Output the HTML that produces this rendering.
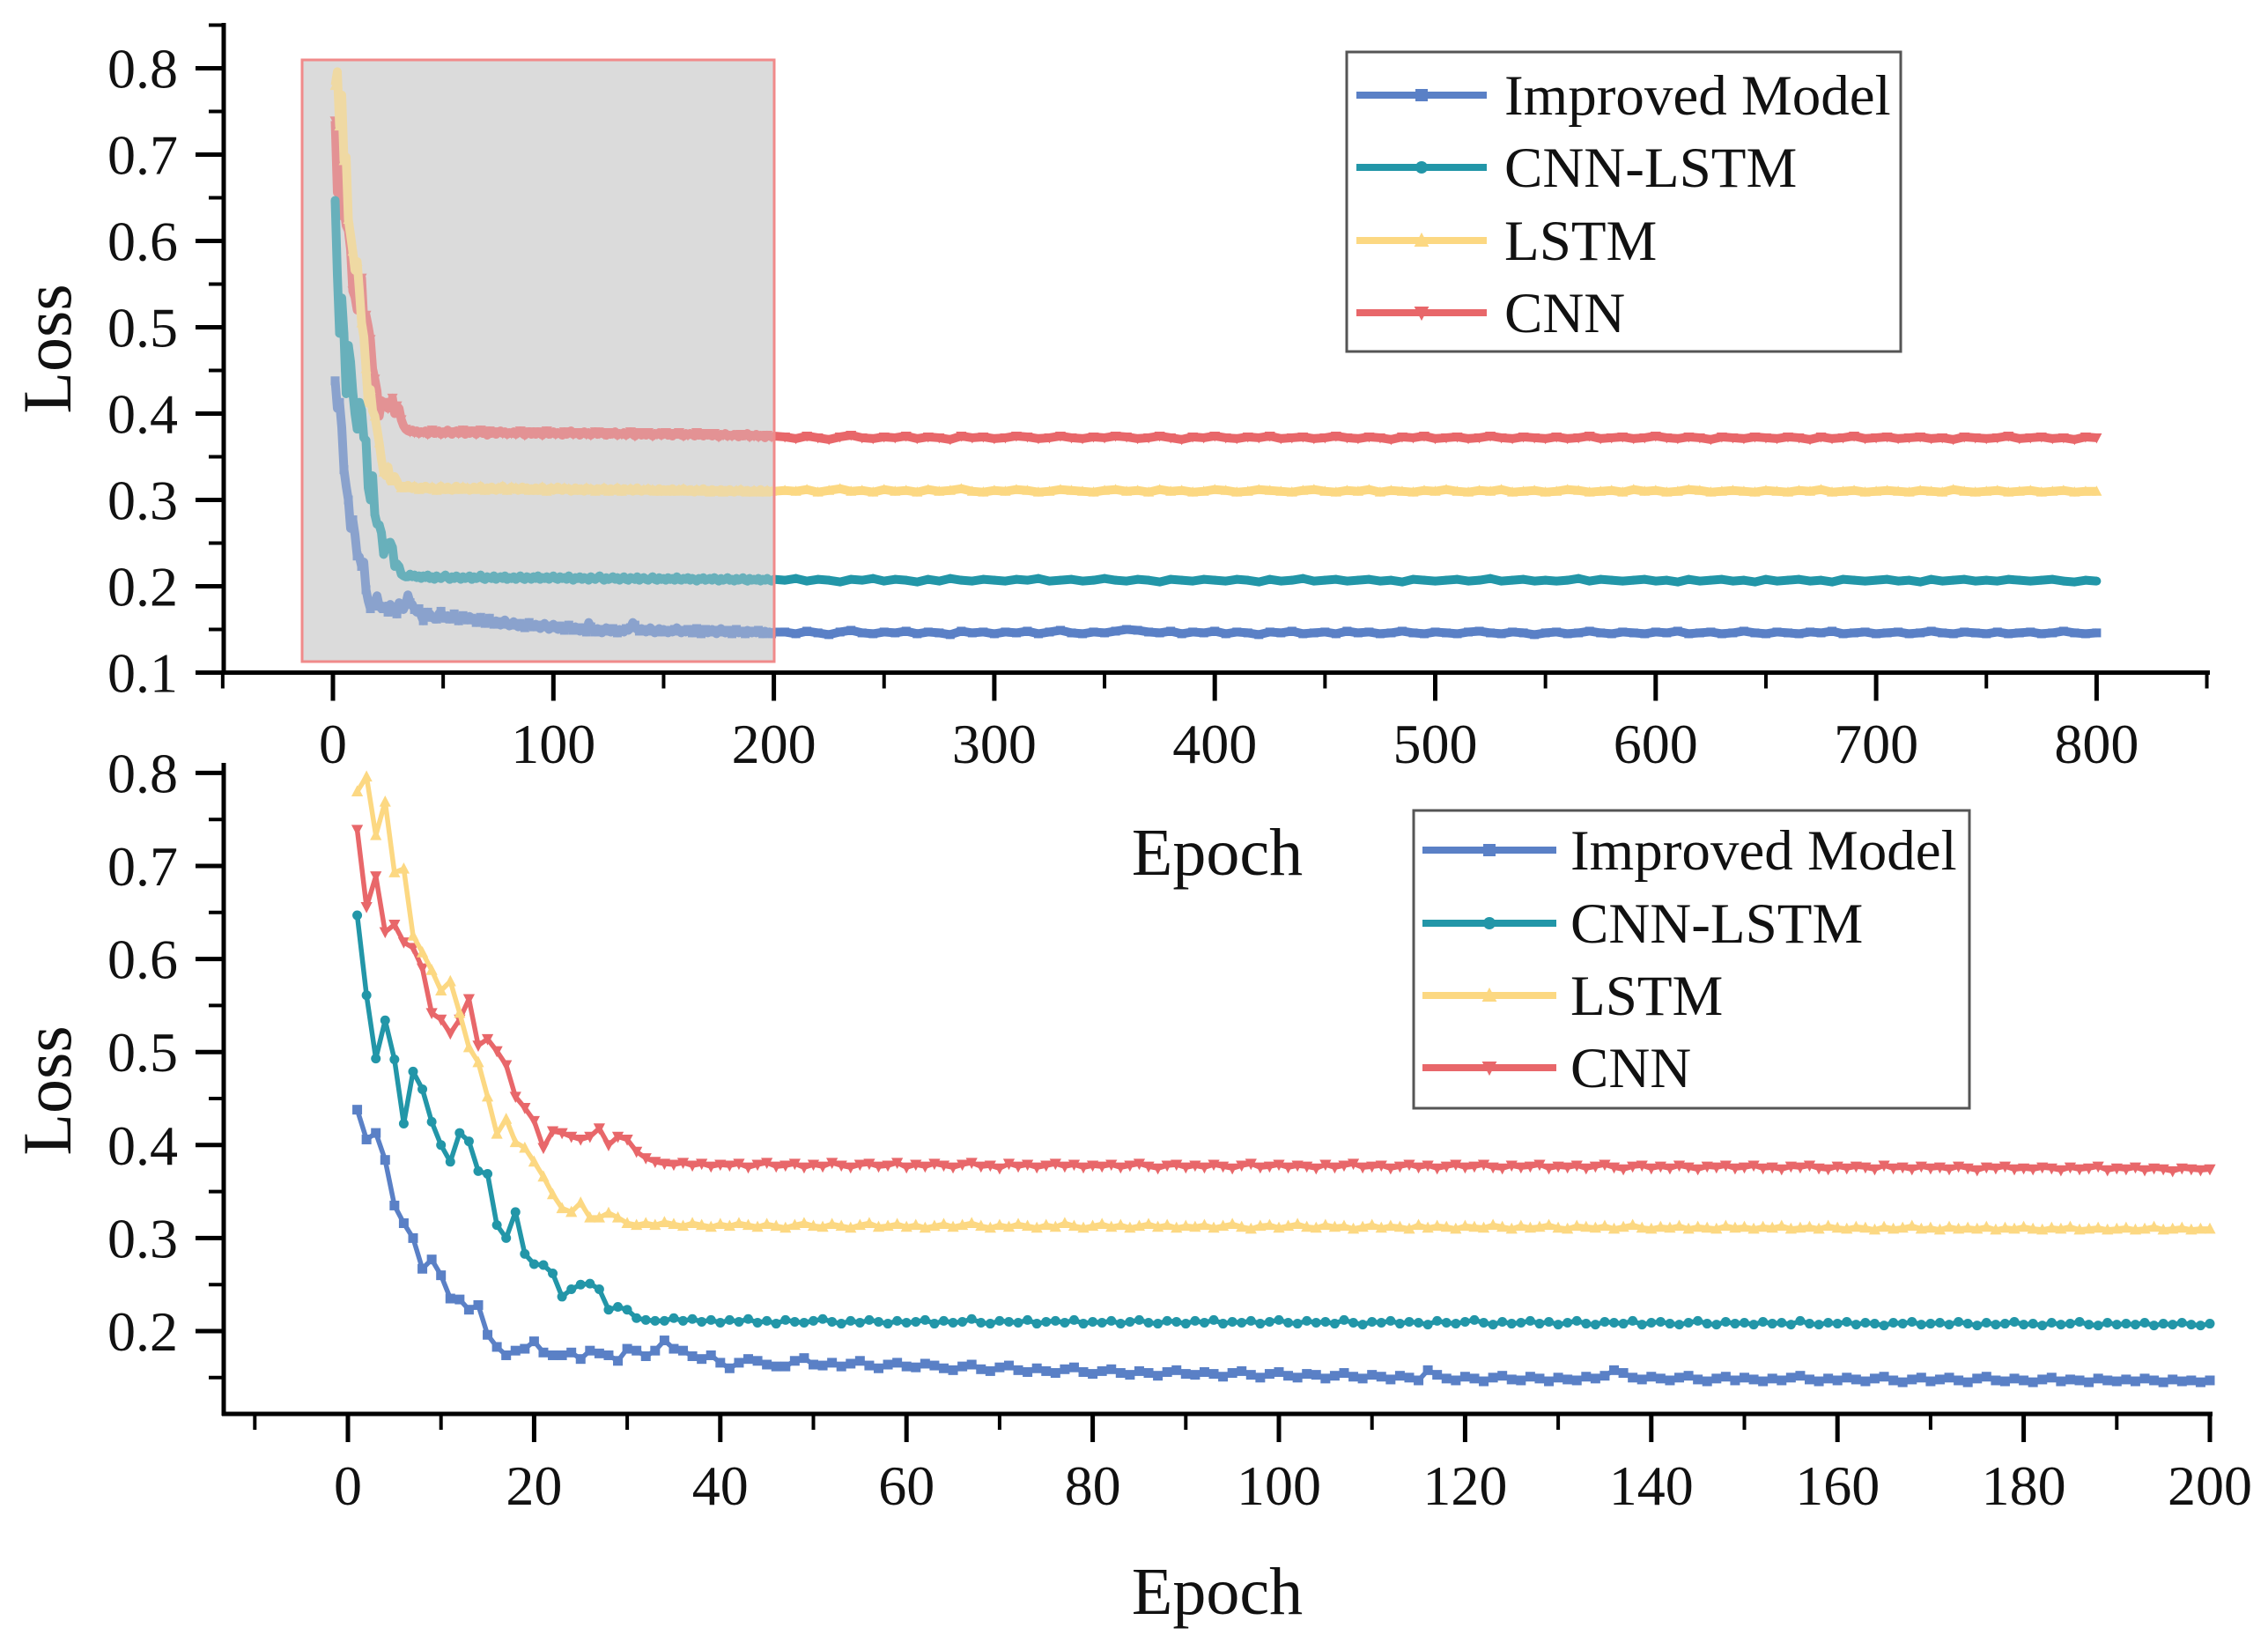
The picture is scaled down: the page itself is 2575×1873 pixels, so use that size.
<!DOCTYPE html>
<html><head><meta charset="utf-8"><style>
html,body{margin:0;padding:0;background:#fff;}
svg{display:block;font-family:"Liberation Serif",serif;}
</style></head><body>
<svg id="chart" width="2575" height="1873" viewBox="0 0 2575 1873" xmlns="http://www.w3.org/2000/svg">
<rect width="2575" height="1873" fill="#fff"/>
<g id="top"></g>
<g id="bot"></g>
</svg>
<script>
// ---------------- data (loss values, x1000) ----------------
const seriesNames = ["Improved Model","CNN-LSTM","LSTM","CNN"];
const seriesColors = ["#5a80c6","#2296a8","#fcd882","#e8676a"];
const blueHead = [438,406,413,384,335,316,300,267,277,260,235,234,223,228,196,183,174,179,181,189,177,174,174,177,170,179,176,174,168,181,179,173,179,190,181,179,173,170,174,166];
const blueTail = [160,166,170,168,164,162,162,168,171,164,163,166,162,165,168,163,160,164,166,162,161,165,163,160,158,162,164,159,157,161,163,158,156,160,157,155,159,161,156,154,157,159,155,153,157,155,152,156,158,154,153,156,154,151,155,157,153,150,154,156,152,150,154,153,149,152,155,151,149,153,151,148,152,150,147,158,153,149,147,151,149,146,150,152,148,147,151,149,146,150,148,147,151,149,152,158,155,150,148,151,149,147,150,152,148,146,149,151,147,150,148,146,149,147,150,152,148,146,149,147,150,148,146,149,151,147,145,148,150,146,148,150,147,145,149,151,147,146,149,147,145,148,150,146,148,147,145,149,147,146,148,146,149,147,145,148,146,147,145,147];
const tealHead = [647,561,493,534,492,423,479,460,425,400,382,413,404,372,369,314,300,328,283,272,271,262,237,245,250,251,245,223,226,223,214,212,211,211,214,211,213,210,212,209];
const tealTail = [212,210,213,209,211,208,212,210,209,211,213,210,208,211,209,212,210,208,211,209,210,212,208,211,209,210,213,209,208,211,210,209,212,208,210,211,209,212,208,210,209,211,208,210,212,209,208,211,210,208,211,209,212,208,210,209,211,208,210,212,209,208,211,209,210,208,212,209,207,210,209,211,208,210,209,207,211,209,208,210,212,209,207,210,208,209,211,208,210,207,209,211,208,207,210,209,208,211,207,209,210,208,207,209,211,208,207,210,208,209,207,210,208,209,207,211,208,207,209,208,210,207,209,208,206,209,208,210,207,208,209,207,210,208,206,209,207,208,210,207,208,206,209,207,208,210,207,206,209,207,208,207,209,206,208,207,209,207,206,208];
const yellowHead = [780,796,733,769,693,697,625,607,588,566,576,542,505,489,452,412,428,403,397,382,366,347,332,328,338,322,322,327,322,316,314,316,314,317,315,313,316,314,312,315];
const yellowTail = [313,316,314,312,315,313,311,314,316,313,312,315,313,311,314,316,312,313,315,312,314,311,313,315,312,314,316,313,311,314,312,315,313,311,314,312,316,313,311,313,315,312,314,311,313,315,312,314,311,313,312,314,311,313,315,312,310,313,314,311,313,315,312,311,314,312,313,310,312,314,311,313,312,310,314,311,313,312,310,313,312,311,314,312,310,313,311,312,314,311,310,313,312,311,313,310,312,314,311,310,312,311,313,310,312,311,310,313,311,312,310,312,311,313,310,311,312,310,313,311,310,312,311,309,312,310,311,313,310,311,309,312,310,311,310,312,309,311,310,312,310,309,311,310,312,309,310,311,309,310,311,309,310,312,309,310,311,309,310,310];
const redHead = [739,656,689,629,637,618,612,590,542,535,520,535,557,507,514,501,486,452,440,426,397,415,413,409,406,409,418,400,409,406,393,386,382,380,379,381,378,380,377,379];
const redTail = [378,380,376,379,381,377,378,380,376,379,377,381,378,376,379,380,377,378,381,376,379,377,380,378,376,379,381,377,378,375,380,377,379,376,378,380,377,379,376,378,377,379,376,378,380,377,375,378,379,376,378,376,379,377,375,378,380,376,377,379,376,378,377,375,379,376,378,380,376,377,378,375,377,379,376,378,375,377,379,376,377,379,376,375,378,376,377,379,375,377,376,378,375,377,379,376,374,377,378,375,377,375,378,376,374,377,376,378,375,376,378,375,376,374,377,376,378,375,374,377,375,377,376,374,378,375,376,374,377,375,376,374,377,375,373,376,375,377,374,375,374,376,375,373,376,374,375,377,373,375,374,376,373,375,374,372,375,374,373,374];
// epochs 205..800, sampled every 5 epochs
const blueLate = [147,145,148,146,144,147,149,146,145,147,146,148,145,147,146,144,148,146,147,145,147,146,148,145,147,149,146,145,147,146,148,150,149,147,146,148,145,147,146,148,145,147,146,144,147,146,148,145,146,147,145,148,146,147,145,146,148,146,145,147,146,145,147,148,146,145,147,146,144,146,147,145,146,148,146,145,147,146,145,147,146,148,145,146,147,145,146,148,146,145,147,146,145,147,146,148,145,146,147,145,146,147,145,146,148,146,145,147,146,145,147,145,146,147,145,146,148,146,145,146];
const tealLate = [207,209,206,208,207,205,208,207,209,206,208,207,205,208,206,209,207,206,208,207,206,208,207,209,206,207,208,206,207,209,207,206,208,207,205,208,207,206,208,207,206,208,207,205,208,206,207,209,206,207,208,206,207,208,206,207,205,208,207,206,207,208,206,207,209,206,207,208,206,207,206,207,209,206,208,207,206,207,208,206,207,205,208,206,207,208,206,207,205,208,206,207,208,206,207,205,208,207,206,207,208,206,207,205,208,206,207,208,206,207,206,208,207,206,207,208,206,205,207,206];
const yellowLate = [311,310,312,309,311,313,310,311,309,312,310,311,309,312,310,311,313,310,309,311,310,312,311,309,310,312,311,310,309,311,312,310,311,309,312,310,311,309,310,312,311,309,310,312,311,310,309,311,312,310,309,311,310,312,309,311,310,309,311,310,312,310,309,311,310,312,309,310,311,309,310,312,311,309,310,311,309,312,310,311,309,310,312,311,309,310,311,310,309,311,310,309,311,310,312,309,310,311,309,310,311,310,309,311,310,309,312,310,309,310,311,309,310,311,309,310,311,309,310,310];
const redLate = [373,371,374,372,370,373,375,372,371,373,372,374,371,373,372,370,374,372,373,371,372,374,373,371,372,374,372,371,373,372,374,373,371,372,374,372,370,373,372,374,372,371,373,372,374,371,372,373,371,372,374,372,371,373,372,370,373,372,374,371,372,373,371,372,374,372,371,373,372,371,373,371,372,374,371,372,373,371,372,374,372,371,373,372,370,373,372,371,373,372,371,373,372,370,373,371,372,374,371,372,373,371,372,373,371,372,370,373,372,371,372,374,371,372,373,371,372,370,373,372];
const topXTicks = [0,100,200,300,400,500,600,700,800];
const topYTicks = [0.1,0.2,0.3,0.4,0.5,0.6,0.7,0.8];
const botXTicks = [0,20,40,60,80,100,120,140,160,180,200];
const botYTicks = [0.2,0.3,0.4,0.5,0.6,0.7,0.8];

// ---------------- helpers ----------------
const NS = "http://www.w3.org/2000/svg";
function mk(tag, attrs, parent){const e=document.createElementNS(NS,tag);for(const k in attrs)e.setAttribute(k,attrs[k]);parent.appendChild(e);return e;}
const full = [blueHead.concat(blueTail), tealHead.concat(tealTail), yellowHead.concat(yellowTail), redHead.concat(redTail)];
const late = [blueLate, tealLate, yellowLate, redLate];

function marker(g, kind, cx, cy, s, color){
  let el;
  if(kind===0){el=mk("rect",{x:cx-s,y:cy-s,width:2*s,height:2*s,fill:color},g);}
  else if(kind===1){el=mk("circle",{cx:cx,cy:cy,r:s,fill:color},g);}
  else if(kind===2){el=mk("polygon",{points:`${cx},${cy-s*1.3} ${cx-s*1.2},${cy+s} ${cx+s*1.2},${cy+s}`,fill:color},g);}
  else {el=mk("polygon",{points:`${cx},${cy+s*1.3} ${cx-s*1.2},${cy-s} ${cx+s*1.2},${cy-s}`,fill:color},g);}
  
  
}

function axes(g, o){
  const ax = mk("g",{},g);
  
  
  mk("line",{x1:254,y1:o.yTop,x2:254,y2:o.yAxis+2,stroke:"#000","stroke-width":5},ax);
  mk("line",{x1:252,y1:o.yAxis,x2:o.x1,y2:o.yAxis,stroke:"#000","stroke-width":5},ax);
  o.yTicks.forEach(v=>{
    const y=o.ys(v);
    mk("line",{x1:222,y1:y,x2:254,y2:y,stroke:"#000","stroke-width":5},ax);
    const t=mk("text",{x:202,y:y+22,"text-anchor":"end","font-size":64,fill:"#111"},ax);
    t.textContent=v.toFixed(1);
    
    
  });
  o.yMinor.forEach(v=>{const y=o.ys(v);mk("line",{x1:237,y1:y,x2:254,y2:y,stroke:"#000","stroke-width":4},ax);});
  o.xTicks.forEach(v=>{
    const x=o.xs(v);
    mk("line",{x1:x,y1:o.yAxis,x2:x,y2:o.yAxis+32,stroke:"#000","stroke-width":5},ax);
    const t=mk("text",{x:x,y:o.labY,"text-anchor":"middle","font-size":64,fill:"#111"},ax);
    t.textContent=String(v);
    
    
  });
  o.xMinor.forEach(v=>{const x=o.xs(v);mk("line",{x1:x,y1:o.yAxis,x2:x,y2:o.yAxis+18,stroke:"#000","stroke-width":4},ax);});
}

function legend(g, bx, by, bw, bh, rowY, lx1, lx2, tx){
  const lg=mk("g",{},g);
  
  
  mk("rect",{x:bx,y:by,width:bw,height:bh,fill:"#fff",stroke:"#555","stroke-width":3},lg);
  seriesNames.forEach((n,i)=>{
    const y=rowY[i];
    const e=mk("g",{},lg);
    
    
    mk("line",{x1:lx1,y1:y,x2:lx2,y2:y,stroke:seriesColors[i],"stroke-width":8},e);
    marker(e,i,(lx1+lx2)/2,y,7,seriesColors[i]);
    const t=mk("text",{x:tx,y:y+22,"font-size":65,fill:"#111"},e);
    t.textContent=n;
  });
}

// ---------------- top chart ----------------
(function(){
  const g=document.getElementById("top");
  const xs=e=>378+e*2.503, ys=v=>77.5+(0.8-v)*980;
  mk("rect",{x:343,y:68,width:536,height:683,fill:"#dcdcdc"},g);
  const lines=mk("g",{},g);
  
  
  [3,2,1,0].forEach(i=>{
    const pts=[];
    full[i].forEach((v,k)=>pts.push(xs(k+1)+","+ys(v/1000)));
    late[i].forEach((v,k)=>pts.push(xs(205+5*k)+","+ys(v/1000)));
    const p=mk("polyline",{points:pts.join(" "),fill:"none",stroke:seriesColors[i],"stroke-width":10,"stroke-linejoin":"round"},lines);
    
    
    full[i].forEach((v,k)=>{ if(k%2===0) marker(lines,i,xs(k+1),ys(v/1000),5,seriesColors[i]); });
    late[i].forEach((v,k)=>marker(lines,i,xs(205+5*k),ys(v/1000),5,seriesColors[i]));
  });
  const zr=mk("rect",{x:343,y:68,width:536,height:683,fill:"rgba(218,218,218,0.38)",stroke:"#f08a8a","stroke-width":3},g);
  
  
  axes(g,{x1:2509,yTop:26,yAxis:763.5,xs:xs,ys:ys,xTicks:topXTicks,xMinor:[-50,50,150,250,350,450,550,650,750,850].filter(v=>xs(v)>=252&&xs(v)<=2509),yTicks:topYTicks,yMinor:[0.15,0.25,0.35,0.45,0.55,0.65,0.75,0.85],labY:866});
  const yl=mk("text",{x:0,y:0,transform:"translate(80,396) rotate(-90)","text-anchor":"middle","font-size":78,fill:"#111"},g);
  yl.textContent="Loss";
  
  
  const xl=mk("text",{x:1382,y:993,"text-anchor":"middle","font-size":76,fill:"#111"},g);
  xl.textContent="Epoch";
  
  
  legend(g,1529,59,629,340,[108,190,273,355],1540,1688,1708);
})();

// ---------------- bottom chart ----------------
(function(){
  const g=document.getElementById("bot");
  const xs=e=>395+e*10.57, ys=v=>877.4+(0.8-v)*1056;
  const lines=mk("g",{},g);
  
  
  [3,2,1,0].forEach(i=>{
    const pts=full[i].map((v,k)=>xs(k+1)+","+ys(v/1000));
    const p=mk("polyline",{points:pts.join(" "),fill:"none",stroke:seriesColors[i],"stroke-width":5.5,"stroke-linejoin":"round"},lines);
    
    
    full[i].forEach((v,k)=>marker(lines,i,xs(k+1),ys(v/1000),5.5,seriesColors[i]));
  });
  axes(g,{x1:2512,yTop:866,yAxis:1605,xs:xs,ys:ys,xTicks:botXTicks,xMinor:[-10,10,30,50,70,90,110,130,150,170,190],yTicks:botYTicks,yMinor:[0.15,0.25,0.35,0.45,0.55,0.65,0.75],labY:1708});
  const yl=mk("text",{x:0,y:0,transform:"translate(80,1238) rotate(-90)","text-anchor":"middle","font-size":78,fill:"#111"},g);
  yl.textContent="Loss";
  
  
  const xl=mk("text",{x:1382,y:1832,"text-anchor":"middle","font-size":76,fill:"#111"},g);
  xl.textContent="Epoch";
  
  
  legend(g,1605,920,631,338,[965,1048,1130,1212],1615,1767,1783);
})();
</script>
</body></html>
